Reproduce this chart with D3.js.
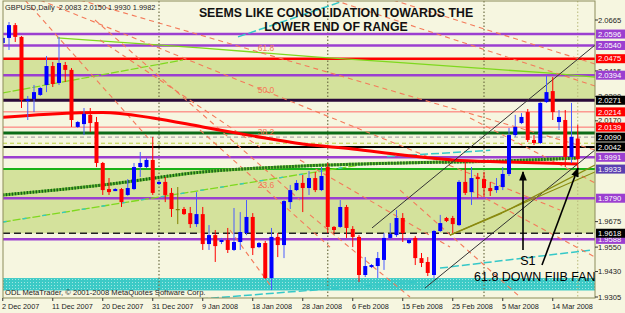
<!DOCTYPE html>
<html><head><meta charset="utf-8">
<script src="https://cdn.jsdelivr.net/npm/d3@7"></script>
<style>html,body{margin:0;padding:0;background:#f6f6e0;} svg{display:block;font-family:"Liberation Sans",Arial,sans-serif;}</style>
</head><body><svg id="c" width="625" height="313"></svg>
<script>
// ---------------- DATA ----------------
const opens = [2.0552,2.0577,2.0640,2.0582,2.0267,2.0277,2.0297,2.0346,2.0439,2.0356,
2.0444,2.0420,2.0140,2.0154,2.0199,2.0164,1.9963,1.9835,1.9825,1.9835,
1.9806,1.9835,1.9943,1.9943,1.9978,1.9860,1.9870,1.9816,1.9737,1.9737,
1.9717,1.9663,1.9712,1.9565,1.9609,1.9575,1.9585,1.9536,1.9575,1.9619,
1.9698,1.9550,1.9570,1.9398,1.9600,1.9560,1.9771,1.9830,1.9865,1.9840,
1.9889,1.9830,1.9943,1.9649,1.9649,1.9747,1.9639,1.9600,1.9413,1.9452,
1.9457,1.9487,1.9595,1.9609,1.9693,1.9570,1.9595,1.9496,1.9477,1.9413,
1.9629,1.9693,1.9693,1.9658,1.9870,1.9820,1.9894,1.9884,1.9840,1.9830,
1.9845,1.9909,2.0100,2.0159,2.0213,2.0076,2.0061,2.0262,2.0316,2.0164,
2.0174,1.9992,2.0083];
const highs = [2.0586,2.0655,2.0650,2.0586,2.0292,2.0346,2.0336,2.0488,2.0459,2.0582,
2.0459,2.0429,2.0169,2.0233,2.0233,2.0189,1.9968,1.9889,1.9840,1.9840,
1.9884,1.9963,2.0017,1.9987,2.0091,1.9875,1.9894,1.9840,1.9845,1.9747,
1.9747,1.9820,1.9747,1.9658,1.9634,1.9595,1.9644,1.9742,1.9722,1.9781,
1.9717,1.9575,1.9580,1.9644,1.9619,1.9781,1.9855,1.9879,1.9904,1.9924,
1.9919,1.9943,1.9963,1.9653,1.9781,1.9757,1.9653,1.9609,1.9501,1.9467,
1.9526,1.9619,1.9668,1.9732,1.9717,1.9595,1.9604,1.9521,1.9501,1.9634,
1.9708,1.9698,1.9703,1.9879,1.9968,1.9943,1.9914,1.9919,1.9870,1.9889,
1.9943,2.0135,2.0199,2.0208,2.0228,2.0100,2.0262,2.0390,2.0385,2.0223,
2.0223,2.0258,2.0150];
const lows = [2.0542,2.0518,2.0557,2.0233,2.0174,2.0213,2.0292,2.0311,2.0336,2.0346,
2.0361,2.0140,2.0135,2.0100,2.0115,1.9943,1.9806,1.9806,1.9825,1.9747,
1.9801,1.9830,1.9894,1.9938,1.9806,1.9855,1.9771,1.9698,1.9663,1.9708,
1.9644,1.9649,1.9536,1.9536,1.9477,1.9565,1.9521,1.9531,1.9536,1.9609,
1.9511,1.9545,1.9393,1.9339,1.9501,1.9496,1.9737,1.9825,1.9722,1.9806,
1.9820,1.9825,1.9619,1.9619,1.9644,1.9595,1.9550,1.9379,1.9403,1.9447,
1.9398,1.9438,1.9585,1.9600,1.9575,1.9565,1.9462,1.9452,1.9408,1.9398,
1.9624,1.9673,1.9619,1.9653,1.9806,1.9757,1.9791,1.9796,1.9801,1.9816,
1.9830,1.9899,2.0091,2.0154,2.0066,2.0051,2.0056,2.0258,2.0174,2.0125,
1.9943,1.9963,1.9930];
const closes = [2.0577,2.0640,2.0582,2.0272,2.0277,2.0311,2.0331,2.0439,2.0351,2.0454,
2.0420,2.0174,2.0164,2.0204,2.0159,1.9963,1.9830,1.9820,1.9835,1.9771,
1.9840,1.9943,1.9963,1.9978,1.9816,1.9870,1.9806,1.9737,1.9737,1.9712,
1.9663,1.9712,1.9565,1.9609,1.9555,1.9585,1.9536,1.9575,1.9624,1.9698,
1.9545,1.9570,1.9398,1.9600,1.9560,1.9776,1.9830,1.9865,1.9840,1.9889,
1.9830,1.9899,1.9649,1.9634,1.9747,1.9644,1.9600,1.9413,1.9457,1.9462,
1.9496,1.9595,1.9614,1.9693,1.9619,1.9585,1.9496,1.9472,1.9423,1.9629,
1.9668,1.9678,1.9663,1.9870,1.9816,1.9889,1.9884,1.9840,1.9825,1.9850,
1.9909,2.0100,2.0140,2.0189,2.0076,2.0061,2.0258,2.0311,2.0213,2.0189,
1.9992,2.0091,1.9982];

const dateLabels = ["2 Dec 2007","11 Dec 2007","20 Dec 2007","31 Dec 2007","9 Jan 2008","18 Jan 2008","28 Jan 2008","6 Feb 2008","15 Feb 2008","25 Feb 2008","5 Mar 2008","14 Mar 2008"];
const dateBars = [0,8,16,24,32,40,48,56,64,72,80,88];
const separatorBars = [25,52,77];
const currentBar = [92];

// tick labels that stay visible (others sit under the coloured level boxes)
const priceTicks = [2.0665,2.0415,2.0290,2.0170,1.9675,1.9550,1.9430,1.9305];
const priceTickLabels = ["2.0665","2.0415","2.0290","2.0170","1.9675","1.9550","1.9430","1.9305"];

const levelPrices = [2.0596,2.0540,2.0475,2.0394,2.0271,2.0214,2.0139,2.0110,2.0090,2.0060,2.0042,1.9991,1.9933,1.9790,1.9588,1.9618];
const levelKinds  = ["purple","purple","red","purple","dark","thinred","thinred","green","greydash","limedash","black","purple","green2","purple","purple","blackdash"];
const levelLabels = ["2.0596","2.0540","2.0475","2.0394","2.0271","2.0214","2.0139","","2.0090","","2.0042","1.9991","1.9933","1.9790","1.9588","1.9618"];

const greenZones = [[2.0271,2.0475],[1.9618,1.9933]];
const cyanZone = [1.9337,1.9398];

const redMA = [[0,2.0187],[8,2.0204],[16,2.0211],[24,2.0184],[32,2.0140],[40,2.0096],[48,2.0056],[56,2.0032],[64,2.0002],[72,1.9978],[80,1.9968],[92,1.9958]];
const greenMA = [[0,1.9806],[16,1.9855],[32,1.9919],[48,1.9948],[64,1.9963],[80,1.9973],[92,1.9987]];
const limeTop = [[8.68,2.0577],[31.56,2.0528],[50.44,2.0483],[61.96,2.0459],[87.08,2.0405],[94.76,2.0385]];
const limeRise1 = [[0,2.0307],[28.84,2.0469]];
const limeRise2 = [[0,1.9673],[59.08,1.9963]];
const cyanLines = [[31.56,1.9295,66.28,1.9379],[69.96,1.9447,94.28,1.9536],[37.64,2.0582,54.0,2.0753],[61.5,1.9995,78.0,2.0025]];

const fanLines = [[3.56,2.0763,23.56,2.0076],[5.96,2.0763,89.16,1.9732],[12.36,2.0763,94.76,2.0027],
 [14.76,2.0665,47.56,1.9781],[53.0,2.0763,94.76,2.0341],[62.44,2.0763,94.76,2.0449],
 [31.56,2.0125,52.36,1.9550],[47.56,1.9978,71.56,1.9550],[63.56,1.9830,82.76,1.9305],
 [74.76,1.9830,94.76,1.9501],[74.76,2.0184,94.76,1.9865],[36.36,1.9634,42.76,1.9364],
 [49.16,1.9708,65.16,1.9305],[15.56,2.0567,41.16,2.0041]];
const fibLabels = ["61.8","50.0","38.2","23.6"];
const fibPrices = [2.0528,2.0321,2.0115,1.9855];
const fibBar = 40.8;

const blackTrend = [[59.08,1.9644,94.76,2.0542],[67.56,1.9349,94.76,2.0027]];
const oliveTrend = [[71.56,1.9609,94.76,1.9919],[79.88,1.9717,94.76,1.9953],[71.56,1.9609,79.88,1.9717]];

const arrows = [[83.24,1.9536,83.24,1.9919],[86.28,1.9462,92.04,1.9938]];
const notes = [{t:"S1",bar:82.8,p:1.9460},{t:"61.8 DOWN FIIB FAN",bar:75.4,p:1.9382}];
const header = "GBPUSD,Daily  2.0083 2.0150 1.9930 1.9982";
const titleLines = ["SEEMS LIKE CONSOLIDATION TOWARDS THE","LOWER END OF RANGE"];
const copyright = "ODL MetaTrader, \u00A9 2001-2008 MetaQuotes Software Corp.";

// ---------------- DRAW ----------------
const svg = d3.select("#c");
const PL=3, PR=595, PT=1, PB=298;
const x = d3.scaleLinear().domain([0,92]).range([2.75,577.75]);
const y = d3.scaleLinear().domain([1.9305,2.0665]).range([297,20]);

svg.append("rect").attr("width",625).attr("height",313).attr("fill","#f6f6e0");
svg.append("defs").html(`
 <clipPath id="pc"><rect x="${PL}" y="${PT}" width="${PR-PL}" height="${PB-PT}"/></clipPath>
 <pattern id="dots" width="3" height="3" patternUnits="userSpaceOnUse"><rect width="3" height="3" fill="#3ccac6"/><rect width="1" height="1" fill="#9fe6e2"/></pattern>
 <marker id="ah" viewBox="0 0 10 10" refX="9" refY="5" markerWidth="6" markerHeight="7" orient="auto"><path d="M0,1 L10,5 L0,9 z" fill="#000"/></marker>`);
const g = svg.append("g").attr("clip-path","url(#pc)");

// zones
greenZones.forEach(z=>{
  g.append("rect").attr("x",PL).attr("width",PR-PL).attr("y",y(z[1])).attr("height",y(z[0])-y(z[1])).attr("fill","#d4e29c");
});
g.append("rect").attr("x",PL).attr("width",PR-PL).attr("y",y(cyanZone[1])).attr("height",y(cyanZone[0])-y(cyanZone[1])).attr("fill","url(#dots)");

// vertical separators
separatorBars.forEach(b=>g.append("line").attr("x1",x(b)).attr("x2",x(b)).attr("y1",PT).attr("y2",PB).attr("stroke","#6e6e45").attr("stroke-width",1.2).attr("stroke-dasharray","1.5,2"));
currentBar.forEach(b=>g.append("line").attr("x1",x(b)).attr("x2",x(b)).attr("y1",PT).attr("y2",PB).attr("stroke","#b8b87a").attr("stroke-width",1).attr("stroke-dasharray","1.5,2"));

// horizontal levels
const lvStyle = {
 purple:{s:"#9b3fd0",w:2.5},red:{s:"#ff0000",w:2.5},dark:{s:"#2a0a3a",w:3.2},thinred:{s:"#ff6a6a",w:1},
 green:{s:"#0b6b16",w:3},greydash:{s:"#9a9a9a",w:1,d:"4,3"},limedash:{s:"#b9cf3a",w:1,d:"4,3"},
 black:{s:"#000",w:2},green2:{s:"#18b218",w:2},blackdash:{s:"#222",w:1.3,d:"7,4"}};
levelPrices.forEach((p,i)=>{
  const st=lvStyle[levelKinds[i]];
  g.append("line").attr("x1",PL).attr("x2",PR).attr("y1",y(p)).attr("y2",y(p)).attr("stroke",st.s).attr("stroke-width",st.w).attr("stroke-dasharray",st.d||null);
});

// lime / cyan lines
const lineG = d3.line().x(d=>x(d[0])).y(d=>y(d[1]));
g.append("path").attr("d",lineG(limeTop)).attr("fill","none").attr("stroke","#7fd81e").attr("stroke-width",1.3);
g.append("path").attr("d",lineG(limeRise1)).attr("fill","none").attr("stroke","#7fd81e").attr("stroke-width",1.2).attr("stroke-dasharray","8,2");
g.append("path").attr("d",lineG(limeRise2)).attr("fill","none").attr("stroke","#7fd81e").attr("stroke-width",1.3).attr("stroke-dasharray","8,2");
g.append("path").attr("d",lineG(limeRise2)).attr("fill","none").attr("stroke","#35c8c8").attr("stroke-width",1.3).attr("stroke-dasharray","4,16");
cyanLines.forEach(l=>g.append("line").attr("x1",x(l[0])).attr("y1",y(l[1])).attr("x2",x(l[2])).attr("y2",y(l[3])).attr("stroke","#35c8c8").attr("stroke-width",1.5).attr("stroke-dasharray","8,3"));

// fan lines
fanLines.forEach(l=>g.append("line").attr("x1",x(l[0])).attr("y1",y(l[1])).attr("x2",x(l[2])).attr("y2",y(l[3])).attr("stroke","#f47a5a").attr("stroke-width",1.1).attr("stroke-dasharray","5,4"));
fibLabels.forEach((t,i)=>g.append("text").attr("x",x(fibBar)).attr("y",y(fibPrices[i])).attr("dy","0.35em").attr("font-size",8.5).attr("fill","#f47a5a").text(t));

// moving averages
const curve = d3.line().x(d=>x(d[0])).y(d=>y(d[1])).curve(d3.curveMonotoneX);
g.append("path").attr("d",curve(greenMA)).attr("fill","none").attr("stroke","#6cc036").attr("stroke-width",3);
g.append("path").attr("d",curve(greenMA)).attr("fill","none").attr("stroke","#17601a").attr("stroke-width",3).attr("stroke-dasharray","1.5,1.5");
g.append("path").attr("d",curve(redMA)).attr("fill","none").attr("stroke","#ff0000").attr("stroke-width",3);

// trend lines
blackTrend.forEach(l=>g.append("line").attr("x1",x(l[0])).attr("y1",y(l[1])).attr("x2",x(l[2])).attr("y2",y(l[3])).attr("stroke","#333").attr("stroke-width",1));
oliveTrend.forEach(l=>g.append("line").attr("x1",x(l[0])).attr("y1",y(l[1])).attr("x2",x(l[2])).attr("y2",y(l[3])).attr("stroke","#8a8a10").attr("stroke-width",1.2));

// candles
const idx = d3.range(opens.length);
const col = i => closes[i]>opens[i] ? "#0000ff" : (closes[i]<opens[i] ? "#ff0000" : "#808000");
g.selectAll(".wick").data(idx).join("line").attr("x1",i=>x(i)).attr("x2",i=>x(i)).attr("y1",i=>y(highs[i])).attr("y2",i=>y(lows[i])).attr("stroke",i=>closes[i]>opens[i]?"#4a5cff":col(i)).attr("stroke-width",1);
g.selectAll(".body").data(idx).join("rect").attr("x",i=>x(i)-2).attr("width",4)
 .attr("y",i=>y(Math.max(opens[i],closes[i])))
 .attr("height",i=>Math.max(1.2,Math.abs(y(opens[i])-y(closes[i])))).attr("fill",col);

// arrows
arrows.forEach(a=>g.append("line").attr("x1",x(a[0])).attr("y1",y(a[1])).attr("x2",x(a[2])).attr("y2",y(a[3])).attr("stroke","#000").attr("stroke-width",1.6).attr("marker-end","url(#ah)"));

// frame
svg.append("rect").attr("x",PL).attr("y",PT).attr("width",PR-PL).attr("height",PB-PT).attr("fill","none").attr("stroke","#8c8c5a").attr("stroke-width",1);

// right axis ticks
priceTicks.forEach((p,i)=>{
  svg.append("line").attr("x1",PR).attr("x2",PR+3).attr("y1",y(p)).attr("y2",y(p)).attr("stroke","#333");
  svg.append("text").attr("x",PR+3).attr("y",y(p)).attr("dy","0.35em").attr("font-size",7.6).attr("fill","#222").text(priceTickLabels[i]);
});
const lbBg = {purple:"#9b3fd0",red:"#ff0000",dark:"#000",thinred:"#ff0000",greydash:"#000",black:"#000",green2:"#5a3fb0",blackdash:"#000"};
levelPrices.forEach((p,i)=>{
  if(!levelLabels[i]) return;
  svg.append("rect").attr("x",PR+1).attr("y",y(p)-4.5).attr("width",30).attr("height",9).attr("fill",lbBg[levelKinds[i]]);
  svg.append("text").attr("x",PR+3).attr("y",y(p)).attr("dy","0.35em").attr("font-size",7.6).attr("fill","#fff").text(levelLabels[i]);
});

// bottom axis
dateBars.forEach((b,i)=>{
  svg.append("line").attr("x1",x(b)).attr("x2",x(b)).attr("y1",PB).attr("y2",PB+3).attr("stroke","#333");
  svg.append("text").attr("x",x(b)-0.8).attr("y",309).attr("font-size",7.3).attr("fill","#222").text(dateLabels[i]);
});

// texts
svg.append("text").attr("x",5).attr("y",10).attr("font-size",7.4).attr("fill","#222").attr("xml:space","preserve").text(header);
titleLines.forEach((t,i)=>svg.append("text").attr("x",336).attr("y",16.5+14*i).attr("text-anchor","middle").attr("font-size",12.3).attr("font-weight","bold").attr("fill","#111").text(t));
svg.append("text").attr("x",5).attr("y",295).attr("font-size",7.6).attr("fill","#222").text(copyright);
notes.forEach(n=>svg.append("text").attr("x",x(n.bar)).attr("y",y(n.p)).attr("font-size",12.5).attr("fill","#000").text(n.t));
</script></body></html>
